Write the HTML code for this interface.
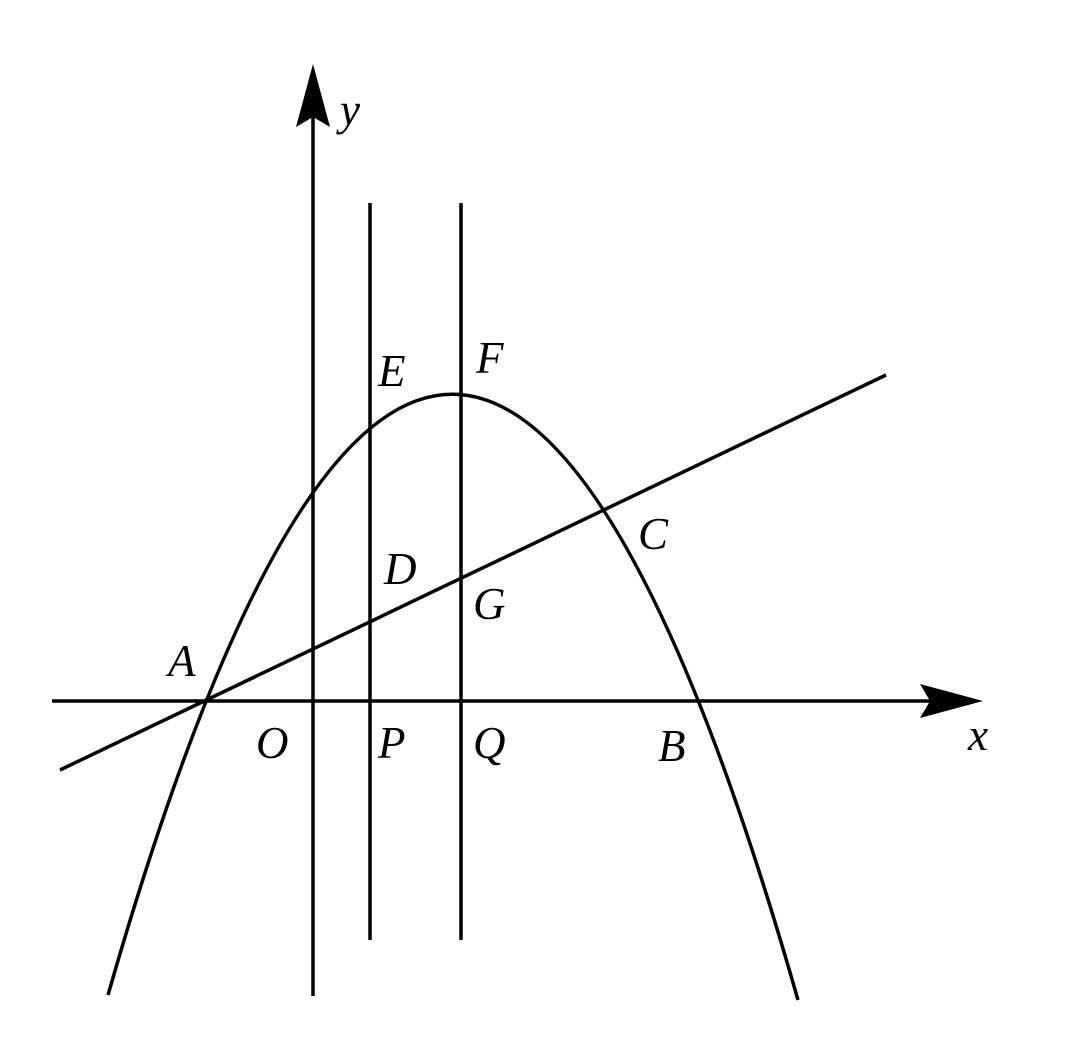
<!DOCTYPE html>
<html><head><meta charset="utf-8"><style>
html,body{margin:0;padding:0;background:#fff;}
svg{display:block;}
text{font-family:"Liberation Serif",serif;font-style:italic;font-size:45px;fill:#000;}
</style></head><body>
<svg width="1080" height="1054" viewBox="0 0 1080 1054" xmlns="http://www.w3.org/2000/svg">
<g stroke="#000" stroke-width="3.5" fill="none">
<line x1="52" y1="701" x2="950" y2="701"/>
<line x1="313" y1="996" x2="313" y2="95"/>
<line x1="370" y1="203" x2="370" y2="940"/>
<line x1="461" y1="203" x2="461" y2="940"/>
<line x1="60" y1="770" x2="886" y2="375"/>
<path d="M108,995 Q453,-209 798,1000"/>
</g>
<path d="M313,64 L330,127 L313,117 L296,127 Z" fill="#000"/>
<path d="M983,701 L920,684 L930,701 L920,718 Z" fill="#000"/>
<text x="340" y="125">y</text>
<text x="968" y="750">x</text>
<text x="168" y="676">A</text>
<text x="256" y="758">O</text>
<text x="378" y="758">P</text>
<text x="473" y="758">Q</text>
<text x="658" y="761">B</text>
<text x="378" y="386">E</text>
<text x="476" y="373">F</text>
<text x="384" y="584">D</text>
<text x="473" y="619">G</text>
<text x="638" y="549">C</text>
</svg>
</body></html>
